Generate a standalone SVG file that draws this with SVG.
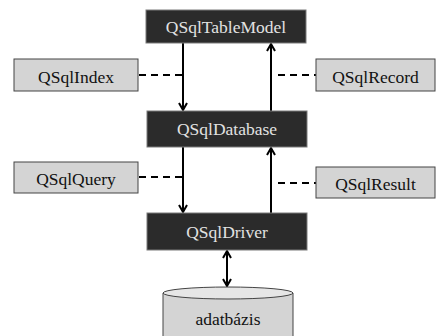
<svg xmlns="http://www.w3.org/2000/svg" width="436" height="336" viewBox="0 0 436 336">
<style>
.dark rect{fill:#2b2b2b;stroke:#7a7a7a;stroke-width:1}
.dark text{fill:#e2e2e2}
.gray rect{fill:#d4d4d4;stroke:#444;stroke-width:1}
.gray text{fill:#111}
.arr{stroke:#000;stroke-width:2;fill:none}
.dash{stroke:#000;stroke-width:2;fill:none;stroke-dasharray:7,5}
</style>
<defs>
<marker id="ah" markerWidth="10" markerHeight="10" refX="8" refY="5" orient="auto-start-reverse" markerUnits="userSpaceOnUse">
<path d="M1,1 L8,5 L1,9" fill="none" stroke="#000" stroke-width="2"/>
</marker>
</defs>
<rect width="436" height="336" fill="#fff"/>
<g id="connectors">
<line class="arr" x1="183" y1="43" x2="183" y2="110" marker-end="url(#ah)"/>
<line class="arr" x1="271" y1="111" x2="271" y2="44" marker-end="url(#ah)"/>
<line class="arr" x1="183" y1="147" x2="183" y2="212" marker-end="url(#ah)"/>
<line class="arr" x1="271" y1="213" x2="271" y2="148" marker-end="url(#ah)"/>
<line class="arr" x1="227" y1="251" x2="227" y2="286" marker-start="url(#ah)" marker-end="url(#ah)"/>
<line class="dash" x1="139" y1="75" x2="183" y2="75"/>
<line class="dash" x1="278" y1="75" x2="316" y2="75"/>
<line class="dash" x1="139" y1="177" x2="183" y2="177"/>
<line class="dash" x1="278" y1="183" x2="316" y2="183"/>
</g>
<g font-family="'Liberation Serif', 'DejaVu Serif', serif" font-size="17.5" text-anchor="middle">
<g id="QSqlTableModel" class="dark"><rect x="146" y="10" width="160" height="33"/><text x="226" y="33">QSqlTableModel</text></g>
<g id="QSqlDatabase" class="dark"><rect x="147" y="111" width="160" height="36"/><text x="227" y="135">QSqlDatabase</text></g>
<g id="QSqlDriver" class="dark"><rect x="147" y="213" width="160" height="37"/><text x="227" y="238">QSqlDriver</text></g>
<g id="QSqlIndex" class="gray"><rect x="14" y="59" width="124" height="32"/><text x="76" y="83">QSqlIndex</text></g>
<g id="QSqlRecord" class="gray"><rect x="316" y="59" width="119" height="32"/><text x="375.5" y="83">QSqlRecord</text></g>
<g id="QSqlQuery" class="gray"><rect x="14" y="162" width="124" height="31"/><text x="76" y="185">QSqlQuery</text></g>
<g id="QSqlResult" class="gray"><rect x="316" y="167" width="119" height="31"/><text x="375.5" y="190">QSqlResult</text></g>
<g id="adatbazis">
<path d="M163,293 L163,340 L293,340 L293,293" fill="#d4d4d4" stroke="#444" stroke-width="1"/>
<ellipse cx="228" cy="293" rx="65" ry="6" fill="#e6e6e6" stroke="#444" stroke-width="1"/>
<text x="228" y="325" fill="#111">adatbázis</text>
</g>
</g>
</svg>
